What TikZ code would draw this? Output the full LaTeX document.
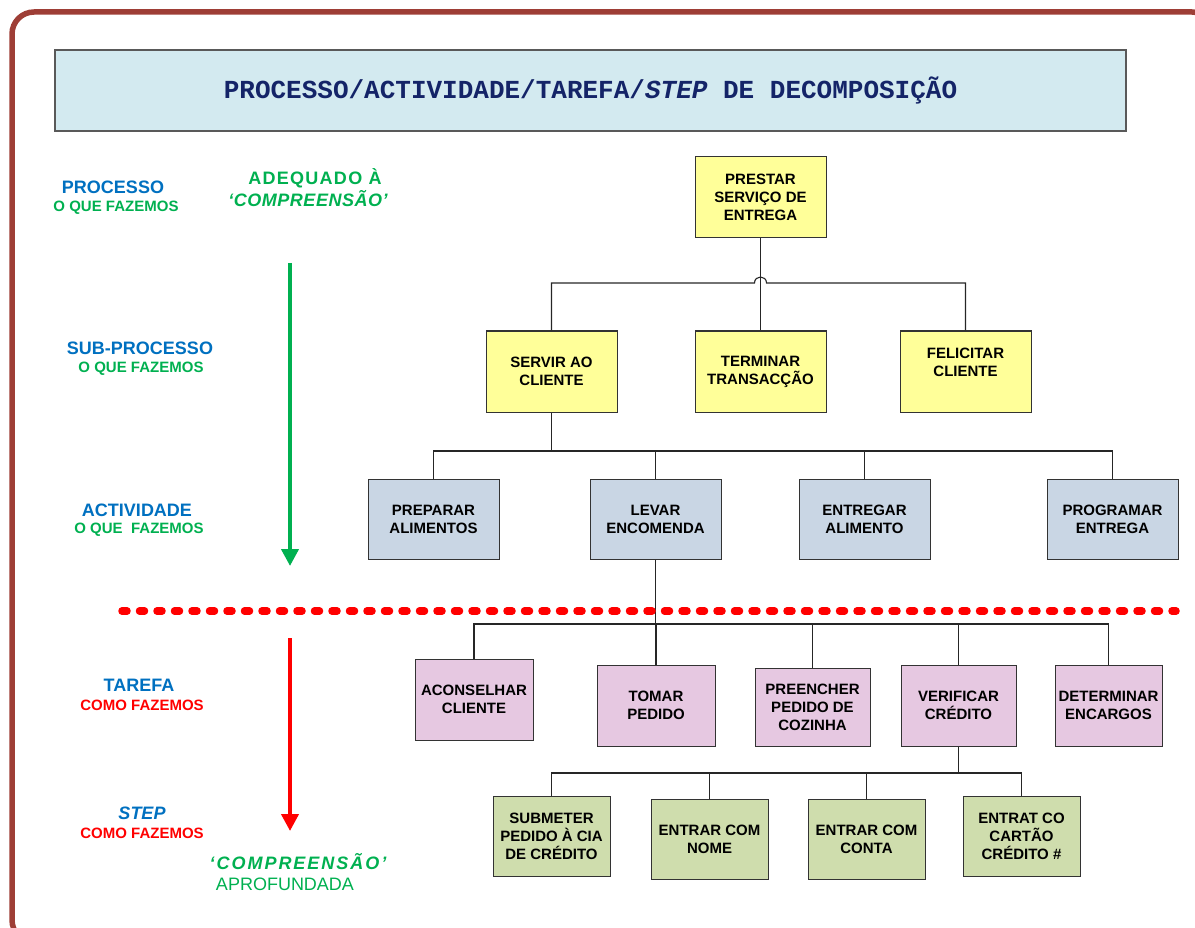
\documentclass[tikz,border=0pt]{standalone}
\usepackage{fontspec}
\setmainfont{Liberation Sans}
\newfontfamily\titlefont{Liberation Mono}
\newfontfamily\wideA{Liberation Sans}[LetterSpace=7]
\newfontfamily\wideB{Liberation Sans}[LetterSpace=3]
\newfontfamily\wideC{Liberation Sans}[LetterSpace=11]
\usetikzlibrary{arrows.meta}

\definecolor{framered}{RGB}{158,62,54}
\definecolor{titlebg}{RGB}{211,234,240}
\definecolor{titleink}{RGB}{20,36,104}
\definecolor{procfill}{RGB}{255,255,153}
\definecolor{actfill}{RGB}{201,214,228}
\definecolor{taskfill}{RGB}{230,200,225}
\definecolor{stepfill}{RGB}{207,221,173}
\definecolor{lblblue}{RGB}{0,112,192}
\definecolor{lblgreen}{RGB}{0,176,80}
\definecolor{lblred}{RGB}{255,0,0}

\begin{document}
\begin{tikzpicture}[x=1pt,y=-1pt,
  box/.style={draw=black!80, line width=1pt, inner sep=0pt, align=center,
              font=\fontsize{15}{18}\selectfont\bfseries, text=black},
  proc/.style={box, fill=procfill, minimum width=131pt, minimum height=81pt},
  act/.style={box, fill=actfill, minimum width=131pt, minimum height=80pt},
  task/.style={box, fill=taskfill, minimum height=81pt},
  stepbox/.style={box, fill=stepfill, minimum width=117pt, minimum height=80pt},
  conn/.style={draw=black!85, line width=1.1pt},
  lvl/.style={font=\fontsize{18}{20}\selectfont\bfseries, text=lblblue, inner sep=0pt},
  sub/.style={font=\fontsize{15}{17}\selectfont\bfseries, inner sep=0pt},
  note/.style={font=\fontsize{18}{21}\selectfont, text=lblgreen, inner sep=0pt, align=center},
  flow/.style={line width=4pt, -{Triangle[width=17pt,length=17pt]}}
]
\useasboundingbox (0,0) rectangle (1195,928);

% outer frame, running past the right and bottom edges
\begin{scope}
  \clip (0,0) rectangle (1195,928);
  \draw[framered, line width=5.5pt, rounded corners=22pt] (12,12) rectangle (1214,942);
\end{scope}

% title banner
\node[draw=black!65, line width=1.3pt, fill=titlebg, minimum width=1071pt,
      minimum height=81pt, inner sep=0pt, text=titleink,
      font=\titlefont\bfseries\fontsize{26}{30}\selectfont] (title) at (590.5,90.5)
  {PROCESSO/ACTIVIDADE/TAREFA/\textit{STEP} DE DECOMPOSIÇÃO};

% level captions on the left
\node[lvl] (cap1) at (113,187) {PROCESSO};
\node[sub, text=lblgreen] (cap1s) at (116,208) {O QUE FAZEMOS};
\node[lvl] (cap2) at (140,348) {SUB-PROCESSO};
\node[sub, text=lblgreen] (cap2s) at (141,369) {O QUE FAZEMOS};
\node[lvl] (cap3) at (137,510) {ACTIVIDADE};
\node[sub, text=lblgreen] (cap3s) at (139,530) {O QUE~~FAZEMOS};
\node[lvl] (cap4) at (139,685) {TAREFA};
\node[sub, text=lblred] (cap4s) at (142,705) {COMO FAZEMOS};
\node[lvl, font=\fontsize{18}{20}\selectfont\bfseries\itshape] (cap5) at (142,813) {STEP};
\node[sub, text=lblred] (cap5s) at (142,833) {COMO FAZEMOS};

\node[note, font=\wideA\fontsize{18}{21}\selectfont\bfseries] (top) at (315,178) {ADEQUADO À};
\node[note, font=\wideB\fontsize{18}{21}\selectfont\bfseries\itshape] (topb) at (308,199) {‘COMPREENSÃO’};
\node[note, font=\wideC\fontsize{18}{21}\selectfont\bfseries\itshape] (bot) at (298,862) {‘COMPREENSÃO’};
\node[note] (botb) at (285,884) {APROFUNDADA};

% direction arrows
\coordinate (gA) at (290,263);
\coordinate (gB) at (290,566);
\draw[flow, lblgreen] (gA) -- (gB);
\coordinate (rA) at (290,638);
\coordinate (rB) at (290,831);
\draw[flow, lblred] (rA) -- (rB);

% process
\node[proc] (p0) at (760.5,197.5) {PRESTAR\\SERVIÇO DE\\ENTREGA};

% sub-processes
\node[proc] (s1) at (551.5,371.5) {SERVIR AO\\CLIENTE};
\node[proc] (s2) at (760.5,371.5) {TERMINAR\\TRANSACÇÃO};
\node[proc] (s3) at (965.5,371.5) {FELICITAR\\CLIENTE\\~};

% activities
\node[act] (a1) at (433.5,519.5) {PREPARAR\\ALIMENTOS};
\node[act] (a2) at (655.5,519.5) {LEVAR\\ENCOMENDA};
\node[act] (a3) at (864.5,519.5) {ENTREGAR\\ALIMENTO};
\node[act] (a4) at (1112.5,519.5) {PROGRAMAR\\ENTREGA};

% tasks
\node[task, minimum width=118pt] (t1) at (474,699.5) {ACONSELHAR\\CLIENTE};
\node[task, minimum width=118pt] (t2) at (656,705.5) {TOMAR\\PEDIDO};
\node[task, minimum width=115pt, minimum height=78pt] (t3) at (812.5,707) {PREENCHER\\PEDIDO DE\\COZINHA};
\node[task, minimum width=115pt] (t4) at (958.5,705.5) {VERIFICAR\\CRÉDITO};
\node[task, minimum width=107pt] (t5) at (1108.5,705.5) {DETERMINAR\\ENCARGOS};

% steps
\node[stepbox] (u1) at (551.5,836) {SUBMETER\\PEDIDO À CIA\\DE CRÉDITO};
\node[stepbox] (u2) at (709.5,839) {ENTRAR COM\\NOME};
\node[stepbox] (u3) at (866.5,839) {ENTRAR COM\\CONTA};
\node[stepbox] (u4) at (1021.5,836) {ENTRAT CO\\CARTÃO\\CRÉDITO \#};

% process -> sub-processes (the bar hops over the trunk)
\coordinate (j2) at (0,283);
\coordinate (hopL) at (754.5,283);
\coordinate (hopR) at (766.5,283);
\draw[conn] (p0.south) -- (s2.north);
\draw[conn] (s1.north) |- (hopL) .. controls (754.5,275) and (766.5,275) .. (hopR) -| (s3.north);

% sub-process -> activities
\coordinate (j3) at (0,451);
\draw[conn] (s1.south) -- (s1.south |- j3);
\draw[conn] (a1.north) -- (a1.north |- j3) -- (a4.north |- j3) -- (a4.north);
\draw[conn] (a2.north) -- (a2.north |- j3);
\draw[conn] (a3.north) -- (a3.north |- j3);

% activity -> tasks
\coordinate (j4) at (0,624);
\draw[conn] (a2.south) -- (a2.south |- j4);
\draw[conn] (t1.north) -- (t1.north |- j4) -- (t5.north |- j4) -- (t5.north);
\draw[conn] (t2.north) -- (t2.north |- j4);
\draw[conn] (t3.north) -- (t3.north |- j4);
\draw[conn] (t4.north) -- (t4.north |- j4);

% task -> steps
\coordinate (j5) at (0,773);
\draw[conn] (t4.south) -- (t4.south |- j5);
\draw[conn] (u1.north) -- (u1.north |- j5) -- (u4.north |- j5) -- (u4.north);
\draw[conn] (u2.north) -- (u2.north |- j5);
\draw[conn] (u3.north) -- (u3.north |- j5);

% divider between "what" and "how"
\coordinate (dL) at (122,611);
\coordinate (dR) at (1176,611);
\draw[lblred, line width=7.5pt, line cap=round, dash pattern=on 5pt off 12.5pt] (dL) -- (dR);

\end{tikzpicture}
\end{document}
